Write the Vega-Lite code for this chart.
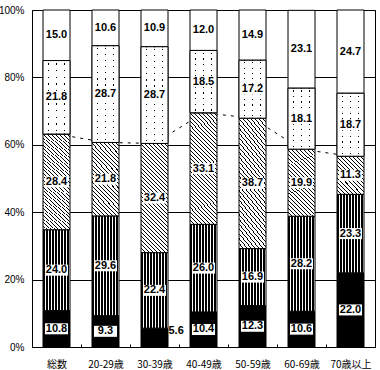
{
"$schema": "https://vega.github.io/schema/vega-lite/v6.json",
"width": 343, "height": 337,
"autosize": {"type": "none"},
"padding": {"left": 32, "top": 10, "right": 5, "bottom": 23},
"background": "#fff",
"config": {"view": {"stroke": "#000", "strokeWidth": 1},
"axisY": {"title": null, "tickCount": 5, "labelExpr": "datum.value + '%'", "grid": true, "gridColor": "#000", "gridOpacity": 1, "gridWidth": 1, "domain": false, "ticks": false, "labelPadding": 8, "labelFont": "Liberation Sans", "labelFontSize": 10, "labelColor": "#000"}},
"data": {"values": [
{"cat":"総数","seg":1,"value":10.8},{"cat":"総数","seg":2,"value":24.0},{"cat":"総数","seg":3,"value":28.4},{"cat":"総数","seg":4,"value":21.8},{"cat":"総数","seg":5,"value":15.0},
{"cat":"20-29歳","seg":1,"value":9.3},{"cat":"20-29歳","seg":2,"value":29.6},{"cat":"20-29歳","seg":3,"value":21.8},{"cat":"20-29歳","seg":4,"value":28.7},{"cat":"20-29歳","seg":5,"value":10.6},
{"cat":"30-39歳","seg":1,"value":5.6},{"cat":"30-39歳","seg":2,"value":22.4},{"cat":"30-39歳","seg":3,"value":32.4},{"cat":"30-39歳","seg":4,"value":28.7},{"cat":"30-39歳","seg":5,"value":10.9},
{"cat":"40-49歳","seg":1,"value":10.4},{"cat":"40-49歳","seg":2,"value":26.0},{"cat":"40-49歳","seg":3,"value":33.1},{"cat":"40-49歳","seg":4,"value":18.5},{"cat":"40-49歳","seg":5,"value":12.0},
{"cat":"50-59歳","seg":1,"value":12.3},{"cat":"50-59歳","seg":2,"value":16.9},{"cat":"50-59歳","seg":3,"value":38.7},{"cat":"50-59歳","seg":4,"value":17.2},{"cat":"50-59歳","seg":5,"value":14.9},
{"cat":"60-69歳","seg":1,"value":10.6},{"cat":"60-69歳","seg":2,"value":28.2},{"cat":"60-69歳","seg":3,"value":19.9},{"cat":"60-69歳","seg":4,"value":18.1},{"cat":"60-69歳","seg":5,"value":23.1},
{"cat":"70歳以上","seg":1,"value":22.0},{"cat":"70歳以上","seg":2,"value":23.3},{"cat":"70歳以上","seg":3,"value":11.3},{"cat":"70歳以上","seg":4,"value":18.7},{"cat":"70歳以上","seg":5,"value":24.7}
]},
"transform": [
{"stack": "value", "groupby": ["cat"], "sort": [{"field": "seg", "order": "ascending"}], "as": ["y0", "y1"]},
{"calculate": "(datum.y0+datum.y1)/2", "as": "mid"}
],
"encoding": {
"x": {"field": "cat", "type": "nominal", "sort": null, "scale": {"paddingInner": 0, "paddingOuter": 0},
"axis": {"title": null, "labelAngle": 0, "domain": true, "domainColor": "#000", "ticks": true, "tickBand": "extent", "tickSize": -3, "tickColor": "#000", "labelPadding": 15, "labelFont": "Noto Sans CJK JP", "labelFontSize": 10, "labelColor": "#000", "grid": false}}
},
"layer": [
{"transform": [{"filter": "datum.seg===3"}],
"mark": {"type": "line", "stroke": "#000", "strokeWidth": 1, "strokeDash": [3, 5]},
"encoding": {"y": {"field": "y1", "type": "quantitative", "scale": {"domain": [0, 100]}, "title": null}}},
{"mark": {"type": "bar", "width": 27, "stroke": "#000", "strokeWidth": 1},
"encoding": {
"y": {"field": "y0", "type": "quantitative", "scale": {"domain": [0, 100]}, "title": null},
"y2": {"field": "y1"},
"fill": {"condition": [
{"test": "datum.seg===1", "value": "#000"},
{"test": "datum.seg===2", "value": {"gradient": "linear", "x1": 0, "y1": 0, "x2": 1, "y2": 0, "stops": [
{"offset":0,"color":"#000"},{"offset":0.0633,"color":"#000"},{"offset":0.0633,"color":"#fff"},{"offset":0.1111,"color":"#fff"},
{"offset":0.1111,"color":"#000"},{"offset":0.1744,"color":"#000"},{"offset":0.1744,"color":"#fff"},{"offset":0.2222,"color":"#fff"},
{"offset":0.2222,"color":"#000"},{"offset":0.2856,"color":"#000"},{"offset":0.2856,"color":"#fff"},{"offset":0.3333,"color":"#fff"},
{"offset":0.3333,"color":"#000"},{"offset":0.3967,"color":"#000"},{"offset":0.3967,"color":"#fff"},{"offset":0.4444,"color":"#fff"},
{"offset":0.4444,"color":"#000"},{"offset":0.5078,"color":"#000"},{"offset":0.5078,"color":"#fff"},{"offset":0.5556,"color":"#fff"},
{"offset":0.5556,"color":"#000"},{"offset":0.6189,"color":"#000"},{"offset":0.6189,"color":"#fff"},{"offset":0.6667,"color":"#fff"},
{"offset":0.6667,"color":"#000"},{"offset":0.73,"color":"#000"},{"offset":0.73,"color":"#fff"},{"offset":0.7778,"color":"#fff"},
{"offset":0.7778,"color":"#000"},{"offset":0.8411,"color":"#000"},{"offset":0.8411,"color":"#fff"},{"offset":0.8889,"color":"#fff"},
{"offset":0.8889,"color":"#000"},{"offset":0.9522,"color":"#000"},{"offset":0.9522,"color":"#fff"},{"offset":1,"color":"#fff"}]}},
{"test": "datum.seg===3 && datum.cat==='70歳以上'", "value": {"gradient": "linear", "x1": 0, "y1": 1, "x2": 0.811, "y2": -0.135, "stops": [
{"offset":0,"color":"#000"},{"offset":0.0156,"color":"#000"},{"offset":0.0156,"color":"#fff"},{"offset":0.0625,"color":"#fff"},
{"offset":0.0625,"color":"#000"},{"offset":0.0781,"color":"#000"},{"offset":0.0781,"color":"#fff"},{"offset":0.125,"color":"#fff"},
{"offset":0.125,"color":"#000"},{"offset":0.1406,"color":"#000"},{"offset":0.1406,"color":"#fff"},{"offset":0.1875,"color":"#fff"},
{"offset":0.1875,"color":"#000"},{"offset":0.2031,"color":"#000"},{"offset":0.2031,"color":"#fff"},{"offset":0.25,"color":"#fff"},
{"offset":0.25,"color":"#000"},{"offset":0.2656,"color":"#000"},{"offset":0.2656,"color":"#fff"},{"offset":0.3125,"color":"#fff"},
{"offset":0.3125,"color":"#000"},{"offset":0.3281,"color":"#000"},{"offset":0.3281,"color":"#fff"},{"offset":0.375,"color":"#fff"},
{"offset":0.375,"color":"#000"},{"offset":0.3906,"color":"#000"},{"offset":0.3906,"color":"#fff"},{"offset":0.4375,"color":"#fff"},
{"offset":0.4375,"color":"#000"},{"offset":0.4531,"color":"#000"},{"offset":0.4531,"color":"#fff"},{"offset":0.5,"color":"#fff"},
{"offset":0.5,"color":"#000"},{"offset":0.5156,"color":"#000"},{"offset":0.5156,"color":"#fff"},{"offset":0.5625,"color":"#fff"},
{"offset":0.5625,"color":"#000"},{"offset":0.5781,"color":"#000"},{"offset":0.5781,"color":"#fff"},{"offset":0.625,"color":"#fff"},
{"offset":0.625,"color":"#000"},{"offset":0.6406,"color":"#000"},{"offset":0.6406,"color":"#fff"},{"offset":0.6875,"color":"#fff"},
{"offset":0.6875,"color":"#000"},{"offset":0.7031,"color":"#000"},{"offset":0.7031,"color":"#fff"},{"offset":0.75,"color":"#fff"},
{"offset":0.75,"color":"#000"},{"offset":0.7656,"color":"#000"},{"offset":0.7656,"color":"#fff"},{"offset":0.8125,"color":"#fff"},
{"offset":0.8125,"color":"#000"},{"offset":0.8281,"color":"#000"},{"offset":0.8281,"color":"#fff"},{"offset":0.875,"color":"#fff"},
{"offset":0.875,"color":"#000"},{"offset":0.8906,"color":"#000"},{"offset":0.8906,"color":"#fff"},{"offset":0.9375,"color":"#fff"},
{"offset":0.9375,"color":"#000"},{"offset":0.9531,"color":"#000"},{"offset":0.9531,"color":"#fff"},{"offset":1,"color":"#fff"}]}},
{"test": "datum.seg===3 && (datum.cat==='20-29歳' || datum.cat==='60-69歳')", "value": {"gradient": "linear", "x1": 0, "y1": 1, "x2": 0.464, "y2": -0.206, "stops": [
{"offset":0,"color":"#000"},{"offset":0.0104,"color":"#000"},{"offset":0.0104,"color":"#fff"},{"offset":0.0417,"color":"#fff"},
{"offset":0.0417,"color":"#000"},{"offset":0.0521,"color":"#000"},{"offset":0.0521,"color":"#fff"},{"offset":0.0833,"color":"#fff"},
{"offset":0.0833,"color":"#000"},{"offset":0.0937,"color":"#000"},{"offset":0.0937,"color":"#fff"},{"offset":0.125,"color":"#fff"},
{"offset":0.125,"color":"#000"},{"offset":0.1354,"color":"#000"},{"offset":0.1354,"color":"#fff"},{"offset":0.1667,"color":"#fff"},
{"offset":0.1667,"color":"#000"},{"offset":0.1771,"color":"#000"},{"offset":0.1771,"color":"#fff"},{"offset":0.2083,"color":"#fff"},
{"offset":0.2083,"color":"#000"},{"offset":0.2187,"color":"#000"},{"offset":0.2187,"color":"#fff"},{"offset":0.25,"color":"#fff"},
{"offset":0.25,"color":"#000"},{"offset":0.2604,"color":"#000"},{"offset":0.2604,"color":"#fff"},{"offset":0.2917,"color":"#fff"},
{"offset":0.2917,"color":"#000"},{"offset":0.3021,"color":"#000"},{"offset":0.3021,"color":"#fff"},{"offset":0.3333,"color":"#fff"},
{"offset":0.3333,"color":"#000"},{"offset":0.3437,"color":"#000"},{"offset":0.3437,"color":"#fff"},{"offset":0.375,"color":"#fff"},
{"offset":0.375,"color":"#000"},{"offset":0.3854,"color":"#000"},{"offset":0.3854,"color":"#fff"},{"offset":0.4167,"color":"#fff"},
{"offset":0.4167,"color":"#000"},{"offset":0.4271,"color":"#000"},{"offset":0.4271,"color":"#fff"},{"offset":0.4583,"color":"#fff"},
{"offset":0.4583,"color":"#000"},{"offset":0.4687,"color":"#000"},{"offset":0.4687,"color":"#fff"},{"offset":0.5,"color":"#fff"},
{"offset":0.5,"color":"#000"},{"offset":0.5104,"color":"#000"},{"offset":0.5104,"color":"#fff"},{"offset":0.5417,"color":"#fff"},
{"offset":0.5417,"color":"#000"},{"offset":0.5521,"color":"#000"},{"offset":0.5521,"color":"#fff"},{"offset":0.5833,"color":"#fff"},
{"offset":0.5833,"color":"#000"},{"offset":0.5937,"color":"#000"},{"offset":0.5937,"color":"#fff"},{"offset":0.625,"color":"#fff"},
{"offset":0.625,"color":"#000"},{"offset":0.6354,"color":"#000"},{"offset":0.6354,"color":"#fff"},{"offset":0.6667,"color":"#fff"},
{"offset":0.6667,"color":"#000"},{"offset":0.6771,"color":"#000"},{"offset":0.6771,"color":"#fff"},{"offset":0.7083,"color":"#fff"},
{"offset":0.7083,"color":"#000"},{"offset":0.7187,"color":"#000"},{"offset":0.7187,"color":"#fff"},{"offset":0.75,"color":"#fff"},
{"offset":0.75,"color":"#000"},{"offset":0.7604,"color":"#000"},{"offset":0.7604,"color":"#fff"},{"offset":0.7917,"color":"#fff"},
{"offset":0.7917,"color":"#000"},{"offset":0.8021,"color":"#000"},{"offset":0.8021,"color":"#fff"},{"offset":0.8333,"color":"#fff"},
{"offset":0.8333,"color":"#000"},{"offset":0.8437,"color":"#000"},{"offset":0.8437,"color":"#fff"},{"offset":0.875,"color":"#fff"},
{"offset":0.875,"color":"#000"},{"offset":0.8854,"color":"#000"},{"offset":0.8854,"color":"#fff"},{"offset":0.9167,"color":"#fff"},
{"offset":0.9167,"color":"#000"},{"offset":0.9271,"color":"#000"},{"offset":0.9271,"color":"#fff"},{"offset":0.9583,"color":"#fff"},
{"offset":0.9583,"color":"#000"},{"offset":0.9687,"color":"#000"},{"offset":0.9687,"color":"#fff"},{"offset":1,"color":"#fff"}]}},
{"test": "datum.seg===3", "value": {"gradient": "linear", "x1": 0, "y1": 1, "x2": 0.294, "y2": -0.176, "stops": [
{"offset":0,"color":"#000"},{"offset":0.0074,"color":"#000"},{"offset":0.0074,"color":"#fff"},{"offset":0.0294,"color":"#fff"},
{"offset":0.0294,"color":"#000"},{"offset":0.0368,"color":"#000"},{"offset":0.0368,"color":"#fff"},{"offset":0.0588,"color":"#fff"},
{"offset":0.0588,"color":"#000"},{"offset":0.0662,"color":"#000"},{"offset":0.0662,"color":"#fff"},{"offset":0.0882,"color":"#fff"},
{"offset":0.0882,"color":"#000"},{"offset":0.0956,"color":"#000"},{"offset":0.0956,"color":"#fff"},{"offset":0.1176,"color":"#fff"},
{"offset":0.1176,"color":"#000"},{"offset":0.125,"color":"#000"},{"offset":0.125,"color":"#fff"},{"offset":0.1471,"color":"#fff"},
{"offset":0.1471,"color":"#000"},{"offset":0.1545,"color":"#000"},{"offset":0.1545,"color":"#fff"},{"offset":0.1765,"color":"#fff"},
{"offset":0.1765,"color":"#000"},{"offset":0.1839,"color":"#000"},{"offset":0.1839,"color":"#fff"},{"offset":0.2059,"color":"#fff"},
{"offset":0.2059,"color":"#000"},{"offset":0.2133,"color":"#000"},{"offset":0.2133,"color":"#fff"},{"offset":0.2353,"color":"#fff"},
{"offset":0.2353,"color":"#000"},{"offset":0.2427,"color":"#000"},{"offset":0.2427,"color":"#fff"},{"offset":0.2647,"color":"#fff"},
{"offset":0.2647,"color":"#000"},{"offset":0.2721,"color":"#000"},{"offset":0.2721,"color":"#fff"},{"offset":0.2941,"color":"#fff"},
{"offset":0.2941,"color":"#000"},{"offset":0.3015,"color":"#000"},{"offset":0.3015,"color":"#fff"},{"offset":0.3235,"color":"#fff"},
{"offset":0.3235,"color":"#000"},{"offset":0.3309,"color":"#000"},{"offset":0.3309,"color":"#fff"},{"offset":0.3529,"color":"#fff"},
{"offset":0.3529,"color":"#000"},{"offset":0.3603,"color":"#000"},{"offset":0.3603,"color":"#fff"},{"offset":0.3824,"color":"#fff"},
{"offset":0.3824,"color":"#000"},{"offset":0.3898,"color":"#000"},{"offset":0.3898,"color":"#fff"},{"offset":0.4118,"color":"#fff"},
{"offset":0.4118,"color":"#000"},{"offset":0.4192,"color":"#000"},{"offset":0.4192,"color":"#fff"},{"offset":0.4412,"color":"#fff"},
{"offset":0.4412,"color":"#000"},{"offset":0.4486,"color":"#000"},{"offset":0.4486,"color":"#fff"},{"offset":0.4706,"color":"#fff"},
{"offset":0.4706,"color":"#000"},{"offset":0.478,"color":"#000"},{"offset":0.478,"color":"#fff"},{"offset":0.5,"color":"#fff"},
{"offset":0.5,"color":"#000"},{"offset":0.5074,"color":"#000"},{"offset":0.5074,"color":"#fff"},{"offset":0.5294,"color":"#fff"},
{"offset":0.5294,"color":"#000"},{"offset":0.5368,"color":"#000"},{"offset":0.5368,"color":"#fff"},{"offset":0.5588,"color":"#fff"},
{"offset":0.5588,"color":"#000"},{"offset":0.5662,"color":"#000"},{"offset":0.5662,"color":"#fff"},{"offset":0.5882,"color":"#fff"},
{"offset":0.5882,"color":"#000"},{"offset":0.5956,"color":"#000"},{"offset":0.5956,"color":"#fff"},{"offset":0.6176,"color":"#fff"},
{"offset":0.6176,"color":"#000"},{"offset":0.625,"color":"#000"},{"offset":0.625,"color":"#fff"},{"offset":0.6471,"color":"#fff"},
{"offset":0.6471,"color":"#000"},{"offset":0.6545,"color":"#000"},{"offset":0.6545,"color":"#fff"},{"offset":0.6765,"color":"#fff"},
{"offset":0.6765,"color":"#000"},{"offset":0.6839,"color":"#000"},{"offset":0.6839,"color":"#fff"},{"offset":0.7059,"color":"#fff"},
{"offset":0.7059,"color":"#000"},{"offset":0.7133,"color":"#000"},{"offset":0.7133,"color":"#fff"},{"offset":0.7353,"color":"#fff"},
{"offset":0.7353,"color":"#000"},{"offset":0.7427,"color":"#000"},{"offset":0.7427,"color":"#fff"},{"offset":0.7647,"color":"#fff"},
{"offset":0.7647,"color":"#000"},{"offset":0.7721,"color":"#000"},{"offset":0.7721,"color":"#fff"},{"offset":0.7941,"color":"#fff"},
{"offset":0.7941,"color":"#000"},{"offset":0.8015,"color":"#000"},{"offset":0.8015,"color":"#fff"},{"offset":0.8235,"color":"#fff"},
{"offset":0.8235,"color":"#000"},{"offset":0.8309,"color":"#000"},{"offset":0.8309,"color":"#fff"},{"offset":0.8529,"color":"#fff"},
{"offset":0.8529,"color":"#000"},{"offset":0.8603,"color":"#000"},{"offset":0.8603,"color":"#fff"},{"offset":0.8824,"color":"#fff"},
{"offset":0.8824,"color":"#000"},{"offset":0.8898,"color":"#000"},{"offset":0.8898,"color":"#fff"},{"offset":0.9118,"color":"#fff"},
{"offset":0.9118,"color":"#000"},{"offset":0.9192,"color":"#000"},{"offset":0.9192,"color":"#fff"},{"offset":0.9412,"color":"#fff"},
{"offset":0.9412,"color":"#000"},{"offset":0.9486,"color":"#000"},{"offset":0.9486,"color":"#fff"},{"offset":0.9706,"color":"#fff"},
{"offset":0.9706,"color":"#000"},{"offset":0.978,"color":"#000"},{"offset":0.978,"color":"#fff"},{"offset":1,"color":"#fff"}]}},
{"test": "datum.seg===4 && datum.value>25", "value": {"gradient": "linear", "x1": 0, "y1": 0, "x2": 0, "y2": 1, "stops": [
{"offset":0.0256,"color":"#fff"},{"offset":0.0256,"color":"#000"},{"offset":0.0369,"color":"#000"},{"offset":0.0369,"color":"#fff"},
{"offset":0.0881,"color":"#fff"},{"offset":0.0881,"color":"#000"},{"offset":0.0994,"color":"#000"},{"offset":0.0994,"color":"#fff"},
{"offset":0.1506,"color":"#fff"},{"offset":0.1506,"color":"#000"},{"offset":0.1619,"color":"#000"},{"offset":0.1619,"color":"#fff"},
{"offset":0.2131,"color":"#fff"},{"offset":0.2131,"color":"#000"},{"offset":0.2244,"color":"#000"},{"offset":0.2244,"color":"#fff"},
{"offset":0.2756,"color":"#fff"},{"offset":0.2756,"color":"#000"},{"offset":0.2869,"color":"#000"},{"offset":0.2869,"color":"#fff"},
{"offset":0.3381,"color":"#fff"},{"offset":0.3381,"color":"#000"},{"offset":0.3494,"color":"#000"},{"offset":0.3494,"color":"#fff"},
{"offset":0.4006,"color":"#fff"},{"offset":0.4006,"color":"#000"},{"offset":0.4119,"color":"#000"},{"offset":0.4119,"color":"#fff"},
{"offset":0.4631,"color":"#fff"},{"offset":0.4631,"color":"#000"},{"offset":0.4744,"color":"#000"},{"offset":0.4744,"color":"#fff"},
{"offset":0.5256,"color":"#fff"},{"offset":0.5256,"color":"#000"},{"offset":0.5369,"color":"#000"},{"offset":0.5369,"color":"#fff"},
{"offset":0.5881,"color":"#fff"},{"offset":0.5881,"color":"#000"},{"offset":0.5994,"color":"#000"},{"offset":0.5994,"color":"#fff"},
{"offset":0.6506,"color":"#fff"},{"offset":0.6506,"color":"#000"},{"offset":0.6619,"color":"#000"},{"offset":0.6619,"color":"#fff"},
{"offset":0.7131,"color":"#fff"},{"offset":0.7131,"color":"#000"},{"offset":0.7244,"color":"#000"},{"offset":0.7244,"color":"#fff"},
{"offset":0.7756,"color":"#fff"},{"offset":0.7756,"color":"#000"},{"offset":0.7869,"color":"#000"},{"offset":0.7869,"color":"#fff"},
{"offset":0.8381,"color":"#fff"},{"offset":0.8381,"color":"#000"},{"offset":0.8494,"color":"#000"},{"offset":0.8494,"color":"#fff"},
{"offset":0.9006,"color":"#fff"},{"offset":0.9006,"color":"#000"},{"offset":0.9119,"color":"#000"},{"offset":0.9119,"color":"#fff"},
{"offset":0.9631,"color":"#fff"},{"offset":0.9631,"color":"#000"},{"offset":0.9744,"color":"#000"},{"offset":0.9744,"color":"#fff"}]}},
{"test": "datum.seg===4", "value": {"gradient": "linear", "x1": 0, "y1": 0, "x2": 0, "y2": 1, "stops": [
{"offset":0.0364,"color":"#fff"},{"offset":0.0364,"color":"#000"},{"offset":0.0545,"color":"#000"},{"offset":0.0545,"color":"#fff"},
{"offset":0.1273,"color":"#fff"},{"offset":0.1273,"color":"#000"},{"offset":0.1455,"color":"#000"},{"offset":0.1455,"color":"#fff"},
{"offset":0.2182,"color":"#fff"},{"offset":0.2182,"color":"#000"},{"offset":0.2364,"color":"#000"},{"offset":0.2364,"color":"#fff"},
{"offset":0.3091,"color":"#fff"},{"offset":0.3091,"color":"#000"},{"offset":0.3273,"color":"#000"},{"offset":0.3273,"color":"#fff"},
{"offset":0.4,"color":"#fff"},{"offset":0.4,"color":"#000"},{"offset":0.4182,"color":"#000"},{"offset":0.4182,"color":"#fff"},
{"offset":0.4909,"color":"#fff"},{"offset":0.4909,"color":"#000"},{"offset":0.5091,"color":"#000"},{"offset":0.5091,"color":"#fff"},
{"offset":0.5818,"color":"#fff"},{"offset":0.5818,"color":"#000"},{"offset":0.6,"color":"#000"},{"offset":0.6,"color":"#fff"},
{"offset":0.6727,"color":"#fff"},{"offset":0.6727,"color":"#000"},{"offset":0.6909,"color":"#000"},{"offset":0.6909,"color":"#fff"},
{"offset":0.7636,"color":"#fff"},{"offset":0.7636,"color":"#000"},{"offset":0.7818,"color":"#000"},{"offset":0.7818,"color":"#fff"},
{"offset":0.8545,"color":"#fff"},{"offset":0.8545,"color":"#000"},{"offset":0.8727,"color":"#000"},{"offset":0.8727,"color":"#fff"},
{"offset":0.9455,"color":"#fff"},{"offset":0.9455,"color":"#000"},{"offset":0.9636,"color":"#000"},{"offset":0.9636,"color":"#fff"}]}}
], "value": "#fff"}
}},
{"transform": [{"filter": "datum.seg===4"}],
"mark": {"type": "bar", "width": 27, "stroke": "#000", "strokeWidth": 1,
"fill": {"gradient": "linear", "x1": 0, "y1": 0, "x2": 1, "y2": 0, "stops": [
{"offset":0.185,"color":"#fff"},{"offset":0.185,"color":"rgba(255,255,255,0)"},{"offset":0.225,"color":"rgba(255,255,255,0)"},{"offset":0.225,"color":"#fff"},
{"offset":0.48,"color":"#fff"},{"offset":0.48,"color":"rgba(255,255,255,0)"},{"offset":0.52,"color":"rgba(255,255,255,0)"},{"offset":0.52,"color":"#fff"},
{"offset":0.775,"color":"#fff"},{"offset":0.775,"color":"rgba(255,255,255,0)"},{"offset":0.815,"color":"rgba(255,255,255,0)"},{"offset":0.815,"color":"#fff"}]}},
"encoding": {"y": {"field": "y0", "type": "quantitative", "scale": {"domain": [0, 100]}, "title": null}, "y2": {"field": "y1"}}},
{"transform": [{"filter": "datum.value>=7"}],
"mark": {"type": "point", "shape": "M-2.1,-1H2.1V1H-2.1Z", "size": 121, "filled": true, "fill": "#fff", "strokeWidth": 0, "opacity": 1},
"encoding": {"y": {"field": "mid", "type": "quantitative", "scale": {"domain": [0, 100]}, "title": null}}},
{"transform": [{"filter": "datum.value>=7"}],
"mark": {"type": "text", "font": "Liberation Sans", "fontSize": 11, "fontWeight": "bold", "fill": "#000", "baseline": "middle", "align": "center"},
"encoding": {"y": {"field": "mid", "type": "quantitative", "scale": {"domain": [0, 100]}, "title": null}, "text": {"field": "value", "type": "quantitative", "format": ".1f"}}},
{"transform": [{"filter": "datum.value<7"}],
"mark": {"type": "text", "font": "Liberation Sans", "fontSize": 11, "fontWeight": "bold", "fill": "#000", "baseline": "middle", "align": "left", "dx": 14, "dy": -7},
"encoding": {"y": {"field": "mid", "type": "quantitative", "scale": {"domain": [0, 100]}, "title": null}, "text": {"field": "value", "type": "quantitative", "format": ".1f"}}}
]
}
